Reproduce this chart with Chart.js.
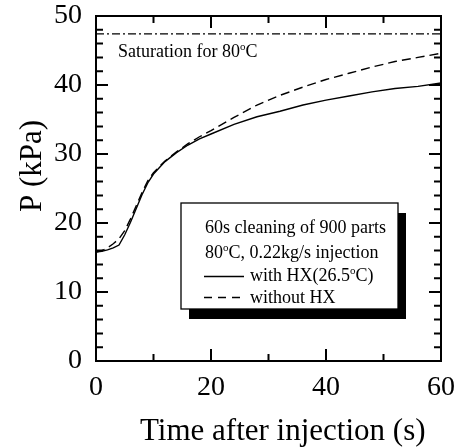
<!DOCTYPE html>
<html>
<head>
<meta charset="utf-8">
<script src="https://cdn.jsdelivr.net/npm/chart.js@4.4.0/dist/chart.umd.min.js"></script>
<style>
  html, body { margin: 0; padding: 0; background: #fff; }
  canvas { display: block; }
</style>
</head>
<body>
<canvas id="pchart" width="461" height="448"></canvas>
<script>
// pressure after injection
const timeWithHX = [0, 1, 2, 3, 4, 5, 6, 7, 8, 9, 10, 12, 14, 16, 18, 20, 24, 28, 32, 36, 40, 44, 48, 52, 56, 60];
const pWithHX = [15.8, 15.9, 16.1, 16.4, 16.8, 18.3, 20.1, 22.1, 24.1, 25.8, 27.1, 28.9, 30.2, 31.3, 32.2, 32.9, 34.3, 35.4, 36.2, 37.1, 37.8, 38.4, 39.0, 39.5, 39.8, 40.3];

const timeNoHX = [0, 1, 2, 3, 4, 5, 6, 7, 8, 9, 10, 12, 14, 16, 18, 20, 24, 28, 32, 36, 40, 44, 48, 52, 56, 60];
const pNoHX = [15.8, 16.0, 16.4, 17.0, 17.7, 18.9, 20.6, 22.5, 24.4, 26.1, 27.3, 29.0, 30.3, 31.5, 32.5, 33.4, 35.3, 37.1, 38.5, 39.7, 40.8, 41.7, 42.6, 43.4, 44.0, 44.6];

const satTime = [0, 60];
const satP = [47.4, 47.4];

const xTicks = [0, 20, 40, 60];
const yTicks = [0, 10, 20, 30, 40, 50];

const xTitle = 'Time after injection (s)';
const yTitle = 'P (kPa)';

const SERIF = '"Liberation Serif", "Times New Roman", serif';

function toPoints(xs, ys) {
    return xs.map((x, i) => ({ x: x, y: ys[i] }));
}

// draws text pieces, some as superscript (the small "o" of degrees)
function drawRich(ctx, parts, x, y, size) {
    let cx = x;
    parts.forEach(p => {
        if (p.sup) {
            ctx.font = `${Math.round(size * 0.6)}px ${SERIF}`;
            ctx.fillText(p.t, cx, y - size * 0.38);
        } else {
            ctx.font = `${size}px ${SERIF}`;
            ctx.fillText(p.t, cx, y);
        }
        cx += ctx.measureText(p.t).width;
    });
}

// no extra room for overflowing tick labels, the plot box is fixed by layout padding
function fixBox(size) {
    return s => {
        if (s.isHorizontal()) s.height = size; else s.width = size;
        s.paddingTop = 0;
        s.paddingBottom = 0;
        s.paddingLeft = 0;
        s.paddingRight = 0;
    };
}

const framePlugin = {
    id: 'frame',
    afterDatasetsDraw(chart) {
        const ctx = chart.ctx;
        const { left, right, top, bottom } = chart.chartArea;
        const xs = chart.scales.x;
        const ys = chart.scales.y;
        ctx.save();
        ctx.strokeStyle = '#000';
        ctx.lineWidth = 2;
        ctx.lineCap = 'butt';
        ctx.beginPath();
        // inward ticks on left and right
        for (let v = 0; v <= 50; v += 2) {
            const py = ys.getPixelForValue(v);
            const len = v % 10 === 0 ? 12 : 7;
            ctx.moveTo(left, py); ctx.lineTo(left + len, py);
            ctx.moveTo(right, py); ctx.lineTo(right - len, py);
        }
        // inward ticks on bottom and top
        for (let v = 10; v < 60; v += 10) {
            const px = xs.getPixelForValue(v);
            const len = v % 20 === 0 ? 12 : 7;
            ctx.moveTo(px, bottom); ctx.lineTo(px, bottom - len);
            ctx.moveTo(px, top); ctx.lineTo(px, top + len);
        }
        ctx.stroke();
        ctx.strokeRect(left, top, right - left, bottom - top);
        ctx.restore();
    },
    afterDraw(chart) {
        const ctx = chart.ctx;
        ctx.save();
        ctx.fillStyle = '#000';
        ctx.textBaseline = 'alphabetic';
        ctx.textAlign = 'left';

        // saturation label
        drawRich(ctx, [{ t: 'Saturation for 80' }, { t: 'o', sup: true }, { t: 'C' }], 118, 57, 18);

        // legend box with black shadow
        const bx = 181, by = 203, bw = 217, bh = 106;
        ctx.fillRect(bx + 8, by + 10, bw, bh);
        ctx.fillStyle = '#fff';
        ctx.fillRect(bx, by, bw, bh);
        ctx.strokeStyle = '#000';
        ctx.lineWidth = 1.3;
        ctx.strokeRect(bx, by, bw, bh);

        ctx.fillStyle = '#000';
        drawRich(ctx, [{ t: '60s cleaning of 900 parts' }], 205, 233, 18);
        drawRich(ctx, [{ t: '80' }, { t: 'o', sup: true }, { t: 'C, 0.22kg/s injection' }], 205, 258, 18);
        drawRich(ctx, [{ t: 'with HX(26.5' }, { t: 'o', sup: true }, { t: 'C)' }], 250, 281, 18);
        drawRich(ctx, [{ t: 'without HX' }], 250, 303, 18);

        ctx.lineWidth = 1.3;
        ctx.beginPath();
        ctx.moveTo(204, 276.5); ctx.lineTo(244, 276.5);
        ctx.stroke();
        ctx.setLineDash([8, 6]);
        ctx.beginPath();
        ctx.moveTo(204, 297.5); ctx.lineTo(242, 297.5);
        ctx.stroke();
        ctx.setLineDash([]);

        // axis titles
        ctx.font = `31px ${SERIF}`;
        ctx.fillText(xTitle, 140, 440);
        ctx.translate(41, 166);
        ctx.rotate(-Math.PI / 2);
        ctx.textAlign = 'center';
        ctx.fillText(yTitle, 0, 0);
        ctx.restore();
    }
};

const ctx = document.getElementById('pchart').getContext('2d');
const pChart = new Chart(ctx, {
    type: 'line',
    data: {
        datasets: [
            {
                label: 'Saturation for 80°C',
                data: toPoints(satTime, satP),
                borderColor: '#000',
                borderWidth: 1.3,
                borderDash: [8, 3, 2, 3],
                pointRadius: 0,
                fill: false
            },
            {
                label: 'with HX(26.5°C)',
                data: toPoints(timeWithHX, pWithHX),
                borderColor: '#000',
                borderWidth: 1.4,
                pointRadius: 0,
                tension: 0,
                fill: false
            },
            {
                label: 'without HX',
                data: toPoints(timeNoHX, pNoHX),
                borderColor: '#000',
                borderWidth: 1.4,
                borderDash: [9, 5],
                pointRadius: 0,
                tension: 0,
                fill: false
            }
        ]
    },
    options: {
        responsive: false,
        animation: false,
        layout: { padding: { left: 0, top: 16, right: 20, bottom: 0 } },
        plugins: {
            legend: { display: false },
            tooltip: { enabled: false }
        },
        scales: {
            x: {
                type: 'linear',
                min: 0,
                max: 60,
                afterFit: fixBox(87),
                afterBuildTicks: s => { s.ticks = xTicks.map(v => ({ value: v })); },
                grid: { display: false, drawTicks: false },
                border: { display: false },
                ticks: {
                    color: '#000',
                    padding: 10,
                    maxRotation: 0,
                    font: { family: SERIF, size: 28 }
                }
            },
            y: {
                min: 0,
                max: 50,
                afterFit: fixBox(96),
                afterBuildTicks: s => { s.ticks = yTicks.map(v => ({ value: v })); },
                grid: { display: false, drawTicks: false },
                border: { display: false },
                ticks: {
                    color: '#000',
                    padding: 14,
                    font: { family: SERIF, size: 28 }
                }
            }
        }
    },
    plugins: [framePlugin]
});
</script>
</body>
</html>
